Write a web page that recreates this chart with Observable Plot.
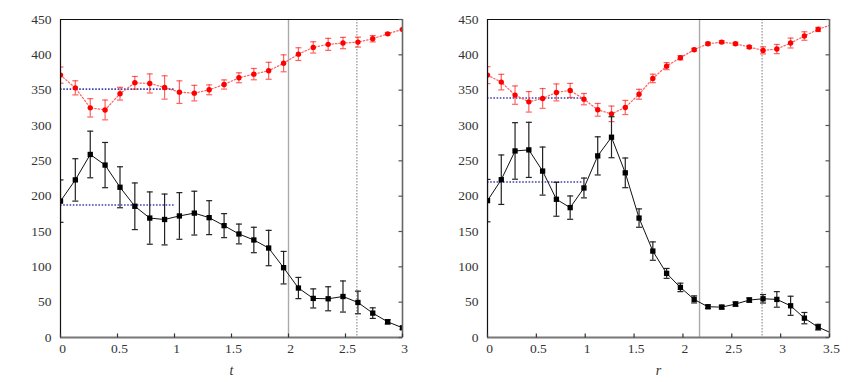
<!DOCTYPE html>
<html>
<head>
<meta charset="utf-8">
<script src="https://cdn.jsdelivr.net/npm/d3@7"></script>
<script src="https://cdn.jsdelivr.net/npm/@observablehq/plot@0.6"></script>
<style>
  html, body { margin: 0; padding: 0; background: #fff; }
  #wrap { display: flex; flex-direction: row; width: 855px; height: 382px; }
  #wrap svg { display: block; }
</style>
</head>
<body>
<div id="wrap"></div>
<script>
// ---------- Left panel data (x = t) ----------
const tL = [0, 0.13, 0.261, 0.391, 0.522, 0.652, 0.783, 0.913, 1.043, 1.174, 1.304, 1.435,
            1.565, 1.696, 1.826, 1.957, 2.087, 2.217, 2.348, 2.478, 2.609, 2.739, 2.87, 3];
const blackL = [193, 223, 259, 244, 212.6, 185.7, 169, 167, 172, 176, 169.6, 158.3,
                146.5, 138, 126.6, 98.8, 70, 55.3, 54.8, 58, 49.6, 34.5, 22.2, 13.7];
const blackErrL = [30, 30, 33, 32, 29, 33, 37, 36, 33, 31, 24, 17,
                   14, 18, 25, 23, 15, 13.5, 17, 22, 16, 7.5, 3, 2];
const redL = [371.3, 353.3, 325, 322, 345, 360.4, 359.5, 353.8, 347.2, 345.8, 350.5, 358,
              367.5, 372.7, 377.4, 388, 401, 410.5, 414.8, 416.7, 418, 422.8, 429.7, 436];
const redErrL = [11.5, 10, 13, 14, 9, 9, 13.5, 16.5, 16, 11, 7, 6.5,
                 7, 8, 12, 12, 9, 8, 8.5, 8, 7, 4.5, 1.5, 1];
const refRedL = 351.5, refBlackL = 187.5, refEndL = 1.0;
const vSolidL = 2.0, vDottedL = 2.6;
const xDomainL = [0, 3];
const xTicksL = [0, 0.5, 1, 1.5, 2, 2.5, 3];
const xLabelL = "t";

// ---------- Right panel data (x = r) ----------
const tR = [0, 0.141, 0.282, 0.423, 0.564, 0.705, 0.846, 0.987, 1.128, 1.269, 1.41, 1.551, 1.692,
            1.833, 1.974, 2.115, 2.256, 2.397, 2.538, 2.679, 2.82, 2.961, 3.102, 3.243, 3.384, 3.525];
const blackR = [193.7, 223.3, 264, 265.5, 235.5, 195.6, 183.8, 211.6, 257, 283.4, 233, 169, 122.3,
                90.7, 70.9, 53.9, 43.5, 43, 47.3, 53, 54.8, 53.9, 44.9, 27.4, 14.6, 6];
const blackErrR = [30, 35, 40, 39, 34, 24, 16.5, 14, 27, 29, 21, 13, 13,
                   7, 6, 5, 2.5, 2.5, 3, 3, 6, 11, 13.5, 8, 4, 3];
const redR = [371.3, 361.4, 343, 333.5, 338.3, 346.8, 349.6, 337.3, 322.2, 316.5, 325.5, 344.2, 366.6,
              384, 395.9, 407.2, 415.7, 418, 415.7, 411, 406.3, 408.2, 416.7, 426.6, 436, 443];
const redErrR = [12, 11, 13, 14.5, 14, 12, 10, 8, 9, 11, 10, 7, 6,
                 5, 3, 2, 2, 2, 2, 2, 5, 6.5, 7, 6, 3, 2];
const refRedR = 339, refBlackR = 220, refEndR = 0.985;
const vSolidR = 2.17, vDottedR = 2.81;
const xDomainR = [0, 3.5];
const xTicksR = [0, 0.5, 1, 1.5, 2, 2.5, 3, 3.5];
const xLabelR = "r";

// shared
const yDomain = [0, 450];
const yTicks = [0, 50, 100, 150, 200, 250, 300, 350, 400, 450];

// custom symbols
const capSym = { draw(ctx) { ctx.moveTo(-3, 0); ctx.lineTo(3, 0); } };
const tickUp = { draw(ctx) { ctx.moveTo(0, 0); ctx.lineTo(0, -4); } };
const tickLeft = { draw(ctx) { ctx.moveTo(0, 0); ctx.lineTo(-4, 0); } };

const fmt = d => String(d);
const FONT = "'Liberation Serif', 'DejaVu Serif', serif";

function panel({width, marginRight, xs, black, blackErr, red, redErr, refRed, refBlack, refEnd,
                vSolid, vDotted, xDomain, xTicks, xLabel}) {
  const B = xs.map((x, i) => ({x, y: black[i], lo: black[i] - blackErr[i], hi: black[i] + blackErr[i]}));
  const R = xs.map((x, i) => ({x, y: red[i], lo: red[i] - redErr[i], hi: red[i] + redErr[i]}));
  return Plot.plot({
    width, height: 382,
    marginLeft: 60, marginRight, marginTop: 19, marginBottom: 45,
    x: {domain: xDomain},
    y: {domain: yDomain},
    marks: [
      // vertical reference lines
      Plot.ruleX([vSolid], {stroke: "#aaa", strokeWidth: 1.4}),
      Plot.ruleX([vDotted], {stroke: "#777", strokeWidth: 1, strokeDasharray: "1.5,1.5"}),
      // blue dotted reference levels
      Plot.ruleY([refRed, refBlack], {x1: 0, x2: refEnd, stroke: "#4040b0", strokeWidth: 1.6, strokeDasharray: "1.6,1.6"}),
      // red series
      Plot.line(R, {x: "x", y: "y", stroke: "#ff6060", strokeWidth: 1.2, strokeDasharray: "1.5,2", clip: true}),
      Plot.ruleX(R, {x: "x", y1: "lo", y2: "hi", stroke: "#ff2020", strokeOpacity: 0.7, strokeWidth: 1.2, clip: true}),
      Plot.dot(R, {x: "x", y: "lo", symbol: capSym, stroke: "#ff2020", strokeOpacity: 0.7, strokeWidth: 1.2, clip: true}),
      Plot.dot(R, {x: "x", y: "hi", symbol: capSym, stroke: "#ff2020", strokeOpacity: 0.7, strokeWidth: 1.2, clip: true}),
      Plot.dot(R, {x: "x", y: "y", r: 2.7, fill: "#ff0000", stroke: "none", clip: true}),
      // black series
      Plot.line(B, {x: "x", y: "y", stroke: "#111", strokeWidth: 1, clip: true}),
      Plot.ruleX(B, {x: "x", y1: "lo", y2: "hi", stroke: "#222", strokeWidth: 1.2, clip: true}),
      Plot.dot(B, {x: "x", y: "lo", symbol: capSym, stroke: "#222", strokeWidth: 1.2, clip: true}),
      Plot.dot(B, {x: "x", y: "hi", symbol: capSym, stroke: "#222", strokeWidth: 1.2, clip: true}),
      Plot.dot(B, {x: "x", y: "y", symbol: "square", r: 3, fill: "#000", stroke: "none", clip: true}),
      // frame
      Plot.ruleY([yDomain[1]], {stroke: "#111", strokeWidth: 1}),
      Plot.ruleX([xDomain[1]], {stroke: "#666", strokeWidth: 1.6}),
      Plot.ruleX([xDomain[0]], {stroke: "#111", strokeWidth: 1.2}),
      Plot.ruleY([yDomain[0]], {stroke: "#777", strokeWidth: 2}),
      // inward ticks
      Plot.dot(xTicks, {x: d => d, frameAnchor: "bottom", symbol: tickUp, stroke: "#333", strokeWidth: 1.2}),
      Plot.dot(yTicks, {y: d => d, frameAnchor: "right", symbol: tickLeft, stroke: "#555", strokeWidth: 1.2}),
      // axes labels
      Plot.axisX({ticks: xTicks, tickFormat: fmt, tickSize: 0, tickPadding: 6, dx: 2, label: null,
                  fill: "#333", fontSize: 13.5, fontFamily: FONT}),
      Plot.axisY({ticks: yTicks, tickFormat: fmt, tickSize: 0, tickPadding: 9, label: null,
                  fill: "#333", fontSize: 13.5, fontFamily: FONT}),
      Plot.text([xLabel], {frameAnchor: "bottom", dy: 37, fontStyle: "italic", fill: "#333",
                           fontSize: 14, fontFamily: FONT})
    ]
  });
}

const wrap = document.getElementById("wrap");
wrap.appendChild(panel({width: 427, marginRight: 25, xs: tL, black: blackL, blackErr: blackErrL,
  red: redL, redErr: redErrL, refRed: refRedL, refBlack: refBlackL, refEnd: refEndL,
  vSolid: vSolidL, vDotted: vDottedL, xDomain: xDomainL, xTicks: xTicksL, xLabel: xLabelL}));
wrap.appendChild(panel({width: 428, marginRight: 26, xs: tR, black: blackR, blackErr: blackErrR,
  red: redR, redErr: redErrR, refRed: refRedR, refBlack: refBlackR, refEnd: refEndR,
  vSolid: vSolidR, vDotted: vDottedR, xDomain: xDomainR, xTicks: xTicksR, xLabel: xLabelR}));
d3.selectAll("#wrap svg").style("font-family", FONT);
</script>
</body>
</html>
